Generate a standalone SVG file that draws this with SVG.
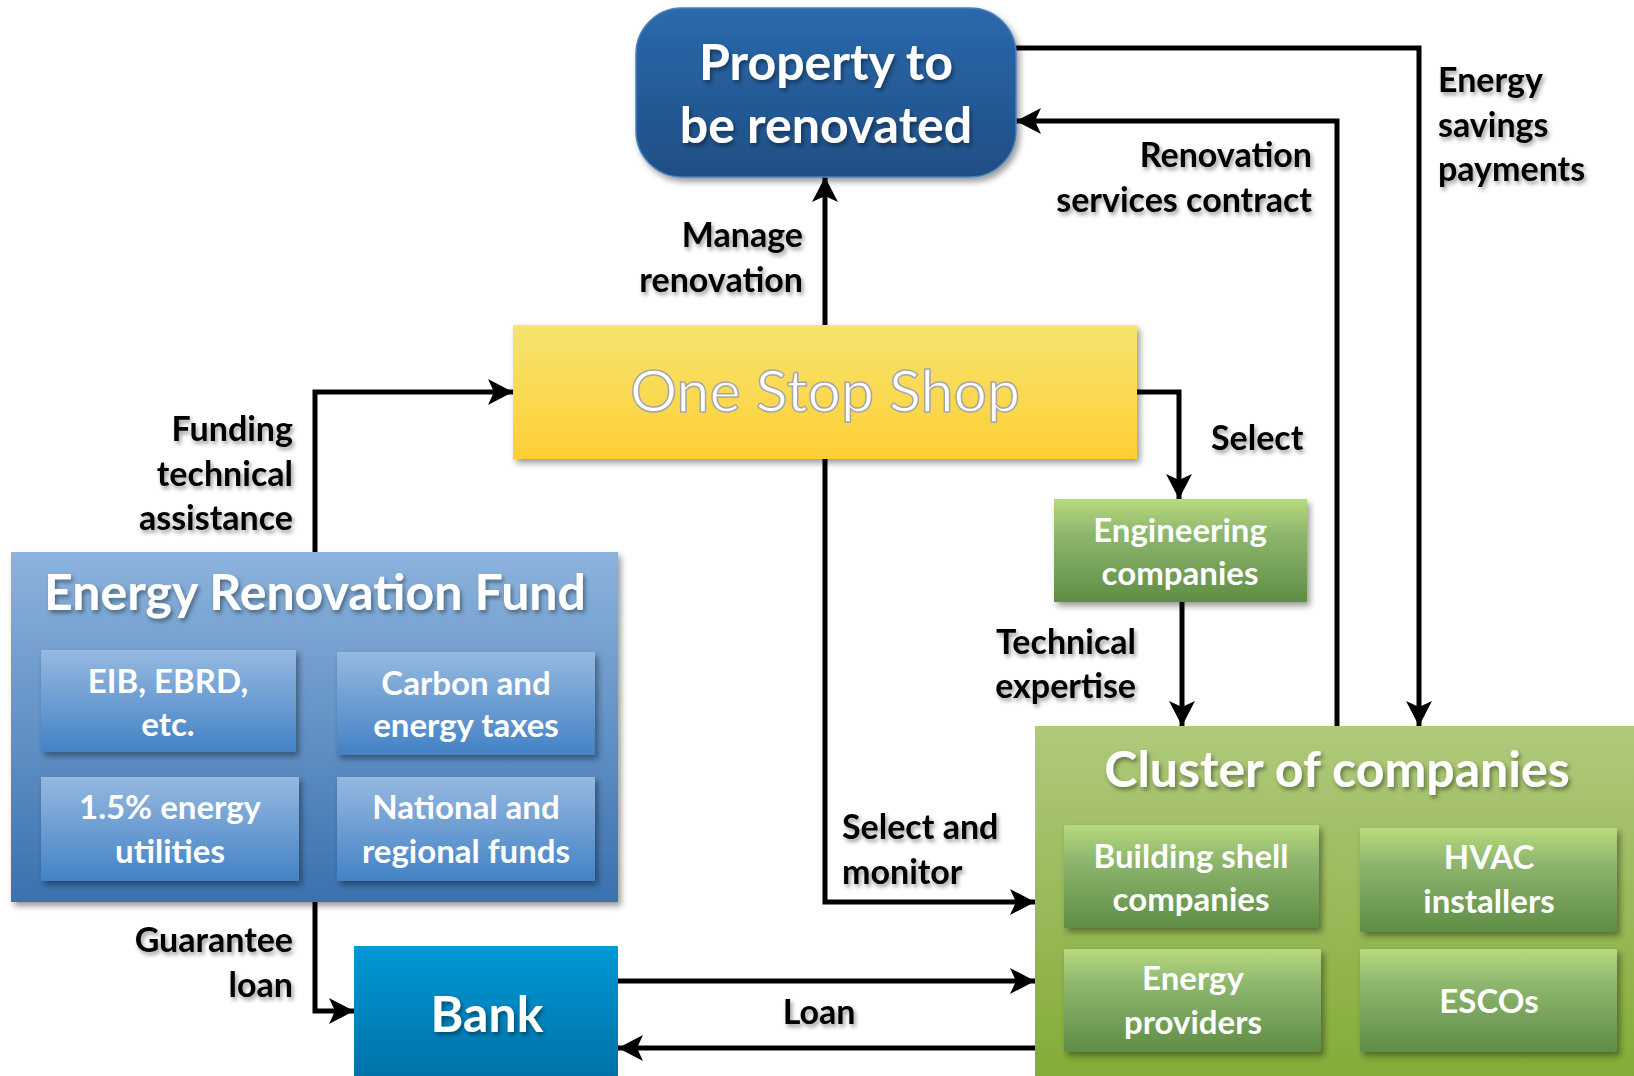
<svg xmlns="http://www.w3.org/2000/svg" width="1634" height="1076" viewBox="0 0 1634 1076">
<defs>
<linearGradient id="gProp" x1="0" y1="0" x2="0" y2="1"><stop offset="0" stop-color="#2A69AC"/><stop offset="1" stop-color="#1F4E85"/></linearGradient>
<linearGradient id="gOss" x1="0" y1="0" x2="0" y2="1"><stop offset="0" stop-color="#F5E46E"/><stop offset="1" stop-color="#FECF36"/></linearGradient>
<linearGradient id="gErf" x1="0" y1="0" x2="0" y2="1"><stop offset="0" stop-color="#8CB3DC"/><stop offset="1" stop-color="#3A71AF"/></linearGradient>
<linearGradient id="gErfSub" x1="0" y1="0" x2="0" y2="1"><stop offset="0" stop-color="#95B9E0"/><stop offset="1" stop-color="#4382C5"/></linearGradient>
<linearGradient id="gClu" x1="0" y1="0" x2="0" y2="1"><stop offset="0" stop-color="#AFC97B"/><stop offset="1" stop-color="#83AB37"/></linearGradient>
<linearGradient id="gGreen" x1="0" y1="0" x2="0" y2="1"><stop offset="0" stop-color="#B8DA7C"/><stop offset="0.35" stop-color="#8DB56E"/><stop offset="1" stop-color="#5F8D45"/></linearGradient>
<linearGradient id="gBank" x1="0" y1="0" x2="0" y2="1"><stop offset="0" stop-color="#0099D6"/><stop offset="1" stop-color="#0070A6"/></linearGradient>
<filter id="boxShadow" x="-10%" y="-10%" width="125%" height="130%"><feDropShadow dx="3" dy="4" stdDeviation="3" flood-color="#000" flood-opacity="0.4"/></filter>
<filter id="txtShadow" x="-10%" y="-20%" width="125%" height="150%"><feDropShadow dx="2" dy="3" stdDeviation="2" flood-color="#000" flood-opacity="0.4"/></filter>
<marker id="arr" viewBox="-26 -14 27 28" refX="0" refY="0" markerWidth="27" markerHeight="28" orient="auto" markerUnits="userSpaceOnUse"><path d="M0,0 L-25,-13 L-19,0 L-25,13 Z" fill="#000"/></marker>
<style>
.conn{fill:none;stroke:#000;stroke-width:5;marker-end:url(#arr)}
.lbl{font-family:Lato,"Open Sans",sans-serif;font-weight:bold;font-size:34px;fill:#000;filter:url(#txtShadow)}
.ttl{font-family:Lato,"Open Sans",sans-serif;font-weight:bold;font-size:50px;fill:#fff;text-anchor:middle;filter:url(#txtShadow)}
.sub{font-family:Lato,"Open Sans",sans-serif;font-weight:bold;font-size:33px;fill:#fff;text-anchor:middle}
.end{text-anchor:end}
.mid{text-anchor:middle}
</style>
</defs>
<rect width="1634" height="1076" fill="#fff"/>

<g id="connectors">
<path class="conn" d="M825,325 V177"/>
<path class="conn" d="M1016,48 H1419 V726"/>
<path class="conn" d="M1337,726 V121 H1016"/>
<path class="conn" d="M1137,392 H1179 V499"/>
<path class="conn" d="M1182,602 V726"/>
<path class="conn" d="M825,459 V902 H1035"/>
<path class="conn" d="M315,552 V392 H513"/>
<path class="conn" d="M315,902 V1011 H354"/>
<path class="conn" d="M618,981 H1035"/>
<path class="conn" d="M1035,1048 H618"/>
</g>

<g id="labels">
<text class="lbl end" x="803" y="247">Manage</text>
<text class="lbl end" x="803" y="292">renovation</text>
<text class="lbl end" x="1312" y="167">Renovation</text>
<text class="lbl end" x="1312" y="212">services contract</text>
<text class="lbl" x="1438" y="92">Energy</text>
<text class="lbl" x="1438" y="137">savings</text>
<text class="lbl" x="1438" y="181">payments</text>
<text class="lbl" x="1211" y="450">Select</text>
<text class="lbl end" x="1136" y="654">Technical</text>
<text class="lbl end" x="1136" y="698">expertise</text>
<text class="lbl" x="842" y="839">Select and</text>
<text class="lbl" x="842" y="884">monitor</text>
<text class="lbl end" x="293" y="441">Funding</text>
<text class="lbl end" x="293" y="486">technical</text>
<text class="lbl end" x="293" y="530">assistance</text>
<text class="lbl end" x="293" y="952">Guarantee</text>
<text class="lbl end" x="293" y="997">loan</text>
<text class="lbl mid" x="819" y="1024">Loan</text>
</g>

<g id="property">
<rect x="636" y="8" width="380" height="169" rx="46" fill="url(#gProp)" stroke="#4A7FBF" stroke-width="1.5" filter="url(#boxShadow)"/>
<text class="ttl" x="826" y="80">Property to</text>
<text class="ttl" x="826" y="143">be renovated</text>
</g>

<g id="one-stop-shop">
<rect x="513" y="325" width="624" height="134" fill="url(#gOss)" filter="url(#boxShadow)"/>
<text x="825" y="412" font-family="Lato,'Open Sans',sans-serif" font-size="59" fill="#fff" stroke="#A6A6A6" stroke-width="1.5" text-anchor="middle">One Stop Shop</text>
</g>

<g id="engineering">
<rect x="1054" y="499" width="253" height="103" fill="url(#gGreen)" filter="url(#boxShadow)"/>
<text class="sub" x="1180" y="542">Engineering</text>
<text class="sub" x="1180" y="585">companies</text>
</g>

<g id="energy-renovation-fund">
<rect x="11" y="552" width="607" height="350" fill="url(#gErf)" filter="url(#boxShadow)"/>
<text class="ttl" x="315" y="610">Energy Renovation Fund</text>
<g id="erf-eib">
<rect x="41" y="650" width="255" height="102" fill="url(#gErfSub)" filter="url(#boxShadow)"/>
<text class="sub" x="168" y="693">EIB, EBRD,</text>
<text class="sub" x="168" y="736">etc.</text>
</g>
<g id="erf-carbon">
<rect x="337" y="652" width="258" height="103" fill="url(#gErfSub)" filter="url(#boxShadow)"/>
<text class="sub" x="466" y="695">Carbon and</text>
<text class="sub" x="466" y="737">energy taxes</text>
</g>
<g id="erf-utilities">
<rect x="41" y="777" width="258" height="104" fill="url(#gErfSub)" filter="url(#boxShadow)"/>
<text class="sub" x="170" y="819">1.5% energy</text>
<text class="sub" x="170" y="863">utilities</text>
</g>
<g id="erf-national">
<rect x="337" y="777" width="258" height="104" fill="url(#gErfSub)" filter="url(#boxShadow)"/>
<text class="sub" x="466" y="819">National and</text>
<text class="sub" x="466" y="863">regional funds</text>
</g>
</g>

<g id="bank">
<rect x="354" y="946" width="264" height="135" fill="url(#gBank)"/>
<text class="ttl" x="487" y="1032">Bank</text>
</g>

<g id="cluster">
<rect x="1035" y="726" width="605" height="355" fill="url(#gClu)"/>
<text class="ttl" x="1337" y="787">Cluster of companies</text>
<g id="cluster-shell">
<rect x="1064" y="825" width="255" height="103" fill="url(#gGreen)" filter="url(#boxShadow)"/>
<text class="sub" x="1191" y="868">Building shell</text>
<text class="sub" x="1191" y="911">companies</text>
</g>
<g id="cluster-hvac">
<rect x="1360" y="828" width="257" height="104" fill="url(#gGreen)" filter="url(#boxShadow)"/>
<text class="sub" x="1489" y="869">HVAC</text>
<text class="sub" x="1489" y="913">installers</text>
</g>
<g id="cluster-energy">
<rect x="1064" y="949" width="257" height="103" fill="url(#gGreen)" filter="url(#boxShadow)"/>
<text class="sub" x="1193" y="990">Energy</text>
<text class="sub" x="1193" y="1034">providers</text>
</g>
<g id="cluster-escos">
<rect x="1360" y="949" width="257" height="103" fill="url(#gGreen)" filter="url(#boxShadow)"/>
<text class="sub" x="1489" y="1013">ESCOs</text>
</g>
</g>
</svg>
